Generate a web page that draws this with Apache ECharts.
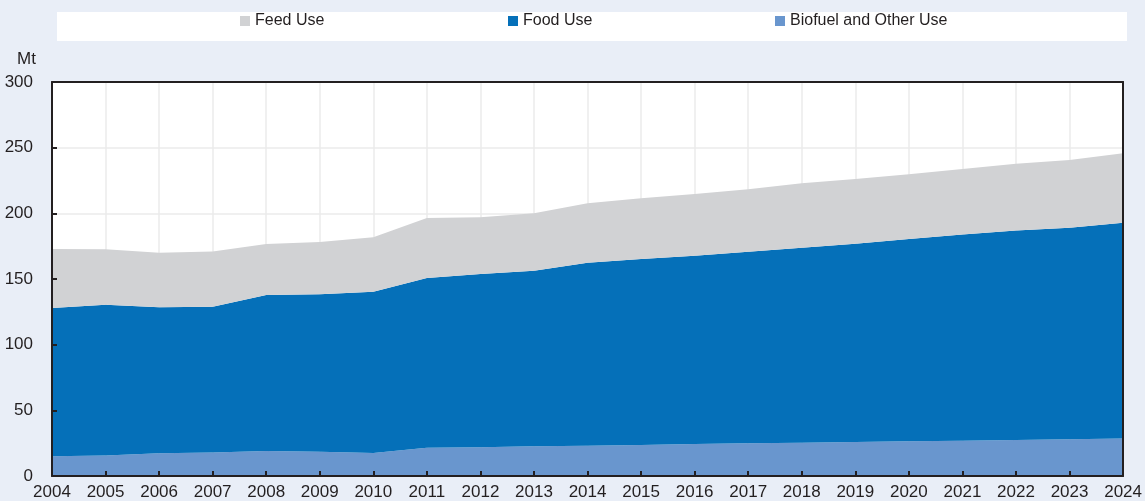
<!DOCTYPE html>
<html>
<head>
<meta charset="utf-8">
<script src="https://cdn.jsdelivr.net/npm/echarts@6/dist/echarts.min.js"></script>
<style>
  html, body { margin: 0; padding: 0; background: #e9eef7; }
  #chart { width: 1145px; height: 501px; }
</style>
</head>
<body>
<div id="chart"></div>
<script>
// years on the x axis
const years = [
  "2004", "2005", "2006", "2007", "2008", "2009", "2010", "2011", "2012", "2013",
  "2014", "2015", "2016", "2017", "2018", "2019", "2020", "2021", "2022", "2023", "2024",
];

// Mt, stacked from the bottom
const biofuelUse = [
  15.0, 15.7, 17.3, 17.8, 19.0, 18.5, 17.6, 21.6, 21.8, 22.6,
  23.1, 23.6, 24.4, 24.9, 25.4, 25.9, 26.4, 26.9, 27.4, 27.9, 28.5,
];
const foodUse = [
  113.0, 114.6, 111.2, 111.0, 118.9, 119.9, 122.6, 129.1, 132.0, 133.7,
  139.3, 141.6, 143.3, 145.9, 148.4, 150.9, 154.1, 156.9, 159.6, 161.2, 164.4,
];
const feedUse = [
  44.8, 42.3, 41.4, 42.1, 38.8, 39.8, 41.5, 45.7, 43.2, 43.7,
  45.2, 46.2, 47.1, 47.5, 49.1, 49.3, 49.2, 50.0, 50.8, 51.5, 52.8,
];

const yTicks = { min: 0, max: 300, interval: 50 };

const FONT = "'Liberation Sans', Arial, sans-serif";
const INK = "#231f20";
const chart = echarts.init(document.getElementById("chart"));

function areaSeries(name, data, color) {
  return {
    name: name,
    type: "line",
    stack: "total",
    data: data,
    symbol: "none",
    color: color,
    lineStyle: { width: 0 },
    areaStyle: { color: color, opacity: 1 },
  };
}

function legendAt(name, left) {
  return {
    data: [name],
    left: left,
    top: 13,
    padding: 0,
    itemWidth: 10,
    itemHeight: 10,
    icon: "rect",
    textStyle: { fontFamily: FONT, fontSize: 16, color: INK },
  };
}

// frame axes drawn above the areas (line + ticks only)
const frameLine = { show: true, onZero: false, lineStyle: { color: INK, width: 2 } };
const noLabel = { show: false };
const noSplit = { show: false };

chart.setOption({
  backgroundColor: "#e9eef7",
  animation: false,
  textStyle: { fontFamily: FONT },
  graphic: [
    {
      type: "rect",
      z: -1,
      shape: { x: 57, y: 12, width: 1070, height: 29 },
      style: { fill: "#fff" },
    },
  ],
  legend: [
    legendAt("Feed Use", 240),
    legendAt("Food Use", 508),
    legendAt("Biofuel and Other Use", 775),
  ],
  grid: {
    left: 52,
    right: 18,
    top: 82,
    bottom: 25,
    show: true,
    backgroundColor: "#fff",
    borderWidth: 0,
  },
  xAxis: [
    {
      type: "category",
      data: years,
      boundaryGap: false,
      axisLine: { show: false },
      axisTick: { show: false },
      axisLabel: { fontSize: 17, color: INK, margin: 8, fontFamily: FONT },
      splitLine: { show: true, lineStyle: { color: "#ebebeb", width: 1.5 } },
    },
    {
      type: "category",
      data: years,
      boundaryGap: false,
      position: "bottom",
      z: 10,
      axisLine: frameLine,
      axisTick: { inside: true, length: 5, lineStyle: { color: INK, width: 2 } },
      axisLabel: noLabel,
      splitLine: noSplit,
    },
    {
      type: "category",
      data: years,
      boundaryGap: false,
      position: "top",
      z: 10,
      axisLine: frameLine,
      axisTick: { show: false },
      axisLabel: noLabel,
      splitLine: noSplit,
    },
  ],
  yAxis: [
    {
      type: "value",
      min: yTicks.min,
      max: yTicks.max,
      interval: yTicks.interval,
      name: "Mt",
      nameLocation: "end",
      nameGap: 14,
      nameTextStyle: { fontSize: 17, color: INK, align: "right", padding: [0, 16, 0, 0], fontFamily: FONT },
      axisLine: { show: false },
      axisTick: { show: false },
      axisLabel: { fontSize: 17, color: INK, margin: 19, fontFamily: FONT },
      splitLine: { show: true, lineStyle: { color: "#ebebeb", width: 1.5 } },
    },
    {
      type: "value",
      min: yTicks.min,
      max: yTicks.max,
      interval: yTicks.interval,
      position: "left",
      z: 10,
      axisLine: frameLine,
      axisTick: { show: true, inside: true, length: 5, lineStyle: { color: INK, width: 2 } },
      axisLabel: noLabel,
      splitLine: noSplit,
    },
    {
      type: "value",
      min: yTicks.min,
      max: yTicks.max,
      interval: yTicks.interval,
      position: "right",
      z: 10,
      axisLine: frameLine,
      axisTick: { show: false },
      axisLabel: noLabel,
      splitLine: noSplit,
    },
  ],
  series: [
    areaSeries("Biofuel and Other Use", biofuelUse, "#6996ce"),
    areaSeries("Food Use", foodUse, "#0570b9"),
    areaSeries("Feed Use", feedUse, "#d1d2d4"),
  ],
});
</script>
</body>
</html>
